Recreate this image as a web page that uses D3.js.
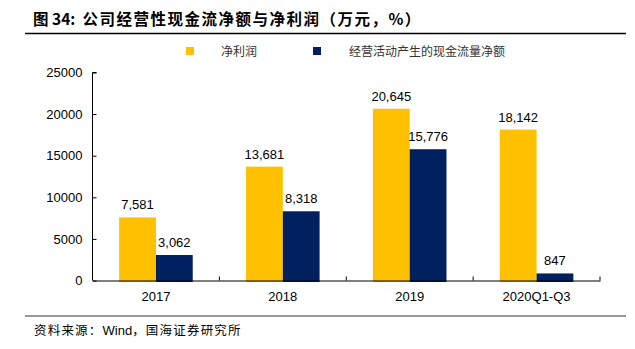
<!DOCTYPE html>
<html>
<head>
<meta charset="utf-8">
<script src="https://cdn.jsdelivr.net/npm/d3@7"></script>
<style>
  html, body { margin: 0; padding: 0; background: #fff; }
  svg { display: block; }
  text { white-space: pre; }
</style>
</head>
<body>
<svg id="chart" width="635" height="349"></svg>
<script>
// Net profit vs. operating cash flow, 10k CNY
const categories = ["2017", "2018", "2019", "2020Q1-Q3"];
const netProfit = [7581, 13681, 20645, 18142];
const operatingCashFlow = [3062, 8318, 15776, 847];
const yTicks = [0, 5000, 10000, 15000, 20000, 25000];
const seriesNames = ["净利润", "经营活动产生的现金流量净额"];
const seriesColors = ["#FFC000", "#002060"];

const svg = d3.select("#chart");
const latin = "'Liberation Sans', Arial, sans-serif";
const cjk = "'Noto Sans CJK SC', 'Liberation Sans', sans-serif";

// Header
const title = svg.append("text")
  .attr("x", 33).attr("y", 25)
  .attr("font-family", cjk).attr("font-size", 15.5).attr("font-weight", "bold")
  .attr("fill", "#000");
title.append("tspan").text("图 34:\u00a0\u00a0");
title.append("tspan").attr("letter-spacing", 1.5).text("公司经营性现金流净额与净利润（万元，%）");
svg.append("line")
  .attr("x1", 25).attr("x2", 626).attr("y1", 33.5).attr("y2", 33.5)
  .attr("stroke", "#000").attr("stroke-width", 1.5);

// Plot scales
const x = d3.scaleBand().domain(categories).range([92.5, 600]);
const y = d3.scaleLinear().domain([0, 25000]).range([280.5, 72.5]);
const barW = x.bandwidth() * 0.29;

const series = [netProfit, operatingCashFlow];
const g = svg.append("g");

series.forEach((vals, si) => {
  const offset = (x.bandwidth() - 2 * barW) / 2 + si * barW;
  g.selectAll(null).data(categories).enter().append("rect")
    .attr("x", d => x(d) + offset)
    .attr("y", (d, i) => y(vals[i]))
    .attr("width", barW)
    .attr("height", (d, i) => y(0) - y(vals[i]) + 1.5)
    .attr("fill", seriesColors[si]);
  g.selectAll(null).data(categories).enter().append("text")
    .attr("x", d => x(d) + offset + barW / 2)
    .attr("y", (d, i) => y(vals[i]) - 8)
    .attr("text-anchor", "middle")
    .attr("font-family", latin).attr("font-size", 13).attr("fill", "#000")
    .text((d, i) => d3.format(",")(vals[i]));
});

// Y axis
const yAxis = svg.append("g")
  .attr("transform", "translate(92.5,0)")
  .call(d3.axisLeft(y).tickValues(yTicks).tickSize(-4).tickPadding(10).tickFormat(d3.format("d")));
yAxis.select(".domain").attr("d", `M-0,${y(0)}V${y(25000)}h4`).attr("stroke", "#000");
yAxis.selectAll(".tick line").attr("stroke", "#000");
yAxis.selectAll("text").attr("font-family", latin).attr("font-size", 13).attr("fill", "#000");

// X axis
const xAxis = svg.append("g")
  .attr("transform", `translate(0,${y(0)})`)
  .call(d3.axisBottom(x).tickSize(0).tickPadding(11));
xAxis.select(".domain").attr("stroke", "#000");
xAxis.selectAll("text").attr("font-family", latin).attr("font-size", 13).attr("fill", "#000");
// Category separators
xAxis.selectAll(null).data(categories.slice(1).concat(["end"])).enter().append("line")
  .attr("x1", (d, i) => i < categories.length - 1 ? x(d) : 600)
  .attr("x2", (d, i) => i < categories.length - 1 ? x(d) : 600)
  .attr("y1", 0).attr("y2", -4)
  .attr("stroke", "#000");

// Legend
const legendX = [186, 313];
const legendTextX = [221, 349];
seriesNames.forEach((name, i) => {
  svg.append("rect")
    .attr("x", legendX[i]).attr("y", 47)
    .attr("width", 8).attr("height", 8)
    .attr("fill", seriesColors[i]);
  svg.append("text")
    .attr("x", legendTextX[i]).attr("y", 56)
    .attr("font-family", cjk).attr("font-size", 12).attr("fill", "#333")
    .text(name);
});

// Footer
svg.append("line")
  .attr("x1", 25).attr("x2", 626).attr("y1", 316).attr("y2", 316)
  .attr("stroke", "#333").attr("stroke-width", 1.2);
const source = svg.append("text")
  .attr("x", 34).attr("y", 335)
  .attr("font-family", cjk).attr("font-size", 12.5).attr("fill", "#000");
source.append("tspan").attr("letter-spacing", 1.2).text("资料来源：");
source.append("tspan").attr("font-family", latin).attr("font-size", 13).text("Wind");
source.append("tspan").attr("letter-spacing", 1.2).text("，国海证券研究所");
</script>
</body>
</html>
